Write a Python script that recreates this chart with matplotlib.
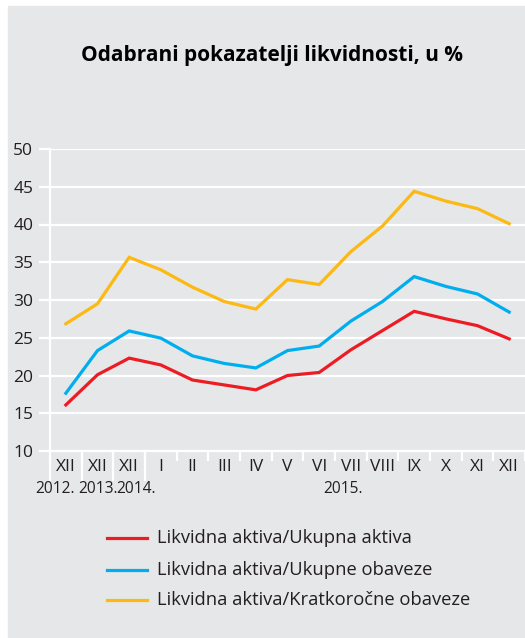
import matplotlib
matplotlib.use("Agg")
import matplotlib.pyplot as plt
from matplotlib.patches import Rectangle
from matplotlib.lines import Line2D

plt.rcParams['font.family'] = ['Open Sans', 'DejaVu Sans']

# month labels (Dec 2012, Dec 2013, then 2014-2015 monthly)
months = ["XII", "XII", "XII", "I", "II", "III", "IV", "V", "VI",
          "VII", "VIII", "IX", "X", "XI", "XII"]
years = ["2012.", "2013.", "2014.", "2015."]
year_pos = [-0.97, 0.38, 1.6, 8.12]

ukupna_aktiva = [16.1, 20.1, 22.3, 21.4, 19.4, 18.75, 18.1, 20.0, 20.4,
                 23.4, 25.95, 28.5, 27.5, 26.6, 24.85]
ukupne_obaveze = [17.65, 23.3, 25.9, 24.95, 22.6, 21.6, 21.0, 23.3, 23.9,
                  27.2, 29.8, 33.1, 31.8, 30.8, 28.4]
kratkorocne = [26.85, 29.5, 35.65, 34.0, 31.7, 29.8, 28.8, 32.7, 32.05,
               36.4, 39.8, 44.4, 43.1, 42.1, 40.1]

labels = ["Likvidna aktiva/Ukupna aktiva",
          "Likvidna aktiva/Ukupne obaveze",
          "Likvidna aktiva/Kratkoročne obaveze"]
colors = ["#ed1c24", "#00aeef", "#fdb913"]

bg = "#e6e7e8"
txt = "#231f20"

W, H = 525, 638
fig = plt.figure(figsize=(5.25, 6.38), dpi=100)
fig.patch.set_facecolor("white")
fig.patches.append(Rectangle((8 / W, 0), 1 - 8 / W, 1 - 6 / H,
                             transform=fig.transFigure, color=bg, zorder=-10))

fig.text(272 / W, 1 - 55 / H, "Odabrani pokazatelji likvidnosti, u %",
         ha="center", va="center", fontsize=15, fontweight="bold", color="black")

ax = fig.add_axes([50 / W, 1 - 451 / H, (W - 50) / W, (451 - 149) / H])
ax.set_facecolor(bg)
x = list(range(len(months)))
for vals, c in zip([ukupna_aktiva, ukupne_obaveze, kratkorocne], colors):
    ax.plot(x, vals, color=c, lw=2.3, solid_joinstyle="miter", zorder=3)

ax.set_xlim(-0.5, (W - 66) / 31.9)
ax.set_ylim(10, 50)
ax.set_yticks(range(10, 51, 5))
ax.yaxis.grid(True, color="white", lw=1.6)
ax.set_axisbelow(True)
for s in ["top", "right"]:
    ax.spines[s].set_visible(False)
for s in ["left", "bottom"]:
    ax.spines[s].set_color("white")
    ax.spines[s].set_linewidth(1.6)

ax.set_xticks([i - 0.5 for i in range(len(months))] + [len(months) - 0.5])
ax.set_xticklabels([])
ax.set_xticks(x, minor=True)
ax.set_xticklabels(months, minor=True)
ax.tick_params(axis="x", which="major", length=7, width=1.6, color="white")
ax.tick_params(axis="x", which="minor", length=0, pad=6, labelsize=12.5, labelcolor=txt)
ax.tick_params(axis="y", length=8, width=1.6, color="white", labelsize=12.5,
               labelcolor=txt, pad=4)

# long separators between years
for b in [-0.5, 0.5, 1.5, 2.5]:
    ax.plot([b, b], [0, -29 / 302], color="white", lw=1.6,
            transform=ax.get_xaxis_transform(), clip_on=False)

for yl, p in zip(years, year_pos):
    ax.text(p, -38 / 302, yl, ha="left", va="center", fontsize=11.2, color=txt,
            transform=ax.get_xaxis_transform())

# legend
leg_y = [538, 570, 600]
for lab, c, yy in zip(labels, colors, leg_y):
    fig.add_artist(Line2D([107 / W, 147 / W], [1 - yy / H, 1 - yy / H],
                          color=c, lw=2.3, transform=fig.transFigure))
    fig.text(157 / W, 1 - yy / H, lab, ha="left", va="center",
             fontsize=13.2, color=txt)

fig.savefig("out.png", dpi=100, facecolor=fig.get_facecolor())
